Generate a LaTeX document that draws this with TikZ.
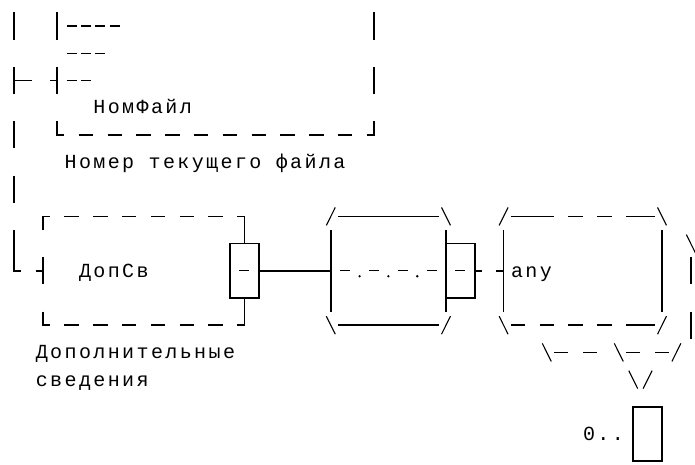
\documentclass[tikz,border=0pt]{standalone}
\usepackage{fontspec}
\newfontfamily\monofam[LetterSpace=12.0]{Liberation Mono}
\newcommand\VL[2]{\draw[box] (#1,#2-0.5) -- (#1,#2+0.5);}
\newcommand\HL[2]{\draw[box] (#1-0.5,#2) -- (#1+0.5,#2);}
\newcommand\HY[2]{\draw[hy] (#1-0.35,#2) -- (#1+0.35,#2);}
\newcommand\SLf[2]{\draw[sl] (#1-0.31,#2+0.33) -- (#1+0.31,#2-0.33);}
\newcommand\SLb[2]{\draw[sl] (#1-0.31,#2-0.33) -- (#1+0.31,#2+0.33);}
\newcommand\DOT[2]{\fill (#1,#2+0.2) circle (1.3pt);}
\begin{document}
\begin{tikzpicture}[x=14.4pt,y=-27.2pt,
  box/.style={line width=1.5pt},
  hy/.style={line width=1.3pt},
  sl/.style={line width=1.1pt},
  txt/.style={anchor=base west, inner sep=0pt, font=\monofam\fontsize{20pt}{24pt}\selectfont}]
\useasboundingbox (-0.9722,-0.9559) rectangle (47.2917,16.1029);
\clip (-0.9722,-0.9559) rectangle (47.2917,16.1029);
% ---------- top block (rows 0-6)
\VL{0}{0} \VL{3}{0}
\foreach \i in {4,...,7} {\HY{\i}{0}}
\VL{25}{0}
\foreach \i in {4,5,6} {\HY{\i}{1}}
\draw[box] (0,1.5) -- (0,2.5) (0,2) -- (1.25,2);
\draw[box] (3,1.5) -- (3,2.5) (2.5,2) -- (3,2);
\HY{4}{2} \HY{5}{2}
\VL{25}{2}
\node[txt] (nomfile) at (5.5,3.235) {НомФайл};
\VL{0}{4}
\draw[box] (3,3.5) -- (3,4) -- (3.5,4);
\foreach \i in {5,7,...,23} {\HL{\i}{4}}
\draw[box] (25,3.5) -- (25,4) -- (24.5,4);
\node[txt] (nomdesc) at (3.5,5.235) {Номер текущего файла};
\VL{0}{6}
% ---------- left tree line
\VL{0}{8}
\draw[box] (0,8.5) -- (0,9) -- (0.5,9);
\draw[box] (2,8.5) -- (2,9.5) (1.5,9) -- (2,9);
% ---------- dashed box ДопСв
\draw[box] (2,7.5) -- (2,7) -- (2.5,7);
\foreach \i in {4,6,...,14} {\HL{\i}{7}}
\draw[box] (15.5,7) -- (16,7) -- (16,8);
\draw[box] (2,10.5) -- (2,11) -- (2.5,11);
\foreach \i in {4,6,...,14} {\HL{\i}{11}}
\draw[box] (16,10) -- (16,11) -- (15.5,11);
\node[txt] (dopsv) at (4.5,9.235) {ДопСв};
\draw[box] (15,8) rectangle (17,10);
\HY{16}{9}
% ---------- sequence box
\coordinate (r1e) at (17,9);
\coordinate (seqw) at (22,9);
\draw[box] (r1e) -- (seqw);
\SLf{22}{7} \draw[box] (22.5,7) -- (29.5,7); \SLb{30}{7}
\SLb{22}{11} \draw[box] (22.5,11) -- (29.5,11); \SLf{30}{11}
\draw[box] (22,7.5) -- (22,10.5);
\draw[box] (30,7.5) -- (30,10.5);
\HY{23}{9} \DOT{24}{9} \HY{25}{9} \DOT{26}{9} \HY{27}{9} \DOT{28}{9} \HY{29}{9}
\draw[box] (30,8) rectangle (32,10);
\HY{31}{9}
% ---------- any box
\coordinate (r2e) at (32,9);
\coordinate (anyw) at (34,9);
\draw[box, dash pattern=on 7.2pt off 14.4pt] (r2e) -- (anyw);
\SLf{34}{7} \draw[box] (34.5,7) -- (37.5,7); \HL{39}{7} \HL{41}{7}
\draw[box] (42.5,7) -- (44.5,7); \SLb{45}{7}
\SLb{34}{11} \HL{35}{11} \HL{37}{11} \HL{39}{11} \HL{41}{11}
\draw[box] (42.5,11) -- (44.5,11); \SLf{45}{11}
\draw[box] (34,7.5) -- (34,10.5);
\draw[box] (45,7.5) -- (45,10.5);
\node[txt] (any) at (34.5,9.235) {any};
% ---------- far right
\SLb{47}{8} \VL{47}{9} \VL{47}{11}
% ---------- labels
\node[txt] (dopdesc1) at (1.5,12.235) {Дополнительные};
\node[txt] (dopdesc2) at (1.5,13.235) {сведения};
% ---------- bottom-right bracket and occurrence
\SLb{37}{12} \HL{38}{12} \HL{40}{12} \SLb{42}{12} \HL{43}{12} \HL{45}{12} \SLf{46}{12}
\SLb{43}{13} \SLf{44}{13}
\draw[box] (43,14) rectangle (45,16);
\node[txt] (occ) at (39.5,15.235) {0..};
\end{tikzpicture}
\end{document}
